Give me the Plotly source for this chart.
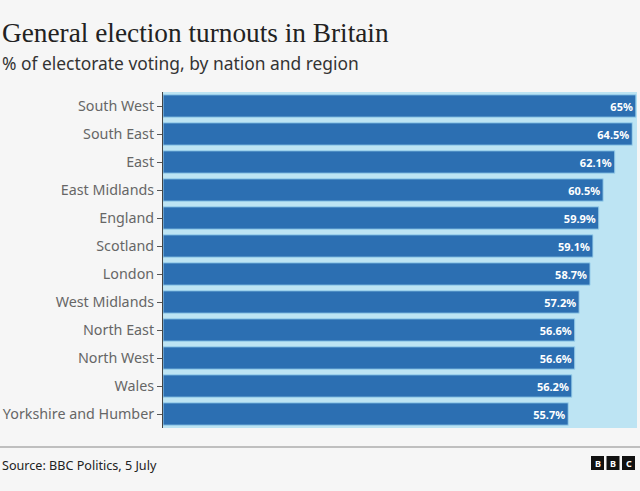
import plotly.graph_objects as go

regions = ["South West", "South East", "East", "East Midlands", "England", "Scotland",
           "London", "West Midlands", "North East", "North West", "Wales", "Yorkshire and Humber"]
turnout = [65, 64.5, 62.1, 60.5, 59.9, 59.1, 58.7, 57.2, 56.6, 56.6, 56.2, 55.7]
labels = [f"{v:g}%" for v in turnout]

W, H = 640, 491
ML, MR, MT, MB = 163, 3, 92, 63
PW, PH = W - ML - MR, H - MT - MB


def px(x):
    return (x - ML) / PW


def py(y):
    return (H - MB - y) / PH


fig = go.Figure(go.Bar(
    y=regions, x=turnout, orientation="h",
    text=labels, textposition="inside", insidetextanchor="end",
    textfont=dict(family="Noto Sans", size=11, color="white", weight="bold"),
    marker=dict(color="#2c6fb2", line=dict(color="#9fd4ee", width=1)),
    cliponaxis=False, hoverinfo="skip",
))

fig.update_layout(
    width=W, height=H,
    margin=dict(l=ML, r=MR, t=MT, b=MB, autoexpand=False),
    paper_bgcolor="#f6f6f6", plot_bgcolor="#bde4f3",
    bargap=0.2, showlegend=False,
    xaxis=dict(range=[0, 65.15], visible=False, fixedrange=True, automargin=False),
    yaxis=dict(autorange="reversed", showline=True, linecolor="#444", linewidth=1,
               ticks="outside", ticklen=5, tickcolor="#555", ticklabelstandoff=0,
               tickfont=dict(family="Noto Sans", size=14.3, color="#666"),
               showgrid=False, fixedrange=True, automargin=False),
    font=dict(family="Noto Sans"),
)

fig.add_annotation(text="General election turnouts in Britain", xref="paper", yref="paper",
                   x=px(0), y=py(33), xanchor="left", yanchor="middle", showarrow=False,
                   font=dict(family="Liberation Serif", size=27.3, color="#222"))
fig.add_annotation(text="% of electorate voting, by nation and region", xref="paper", yref="paper",
                   x=px(0), y=py(63), xanchor="left", yanchor="middle", showarrow=False,
                   font=dict(family="Noto Sans", size=17.4, color="#333"))
fig.add_annotation(text="Source: BBC Politics, 5 July", xref="paper", yref="paper",
                   x=px(0), y=py(465), xanchor="left", yanchor="middle", showarrow=False,
                   font=dict(family="Noto Sans", size=12.6, color="#222"))

fig.add_shape(type="line", xref="paper", yref="paper", x0=px(0), x1=px(640), y0=py(447), y1=py(447),
              line=dict(color="#888", width=1))

for i, letter in enumerate("BBC"):
    x0 = 591 + i * 15.5
    fig.add_shape(type="rect", xref="paper", yref="paper", x0=px(x0), x1=px(x0 + 13),
                  y0=py(470), y1=py(456), fillcolor="#111", line=dict(width=0))
    fig.add_annotation(text=letter, xref="paper", yref="paper", x=px(x0 + 6.5), y=py(463),
                       xanchor="center", yanchor="middle", showarrow=False,
                       font=dict(family="Noto Sans", size=9, color="white", weight="bold"))

fig.write_html("out.html", config={"displayModeBar": False},
               post_script="document.body.style.margin='0';document.body.style.background='#f6f6f6';")
